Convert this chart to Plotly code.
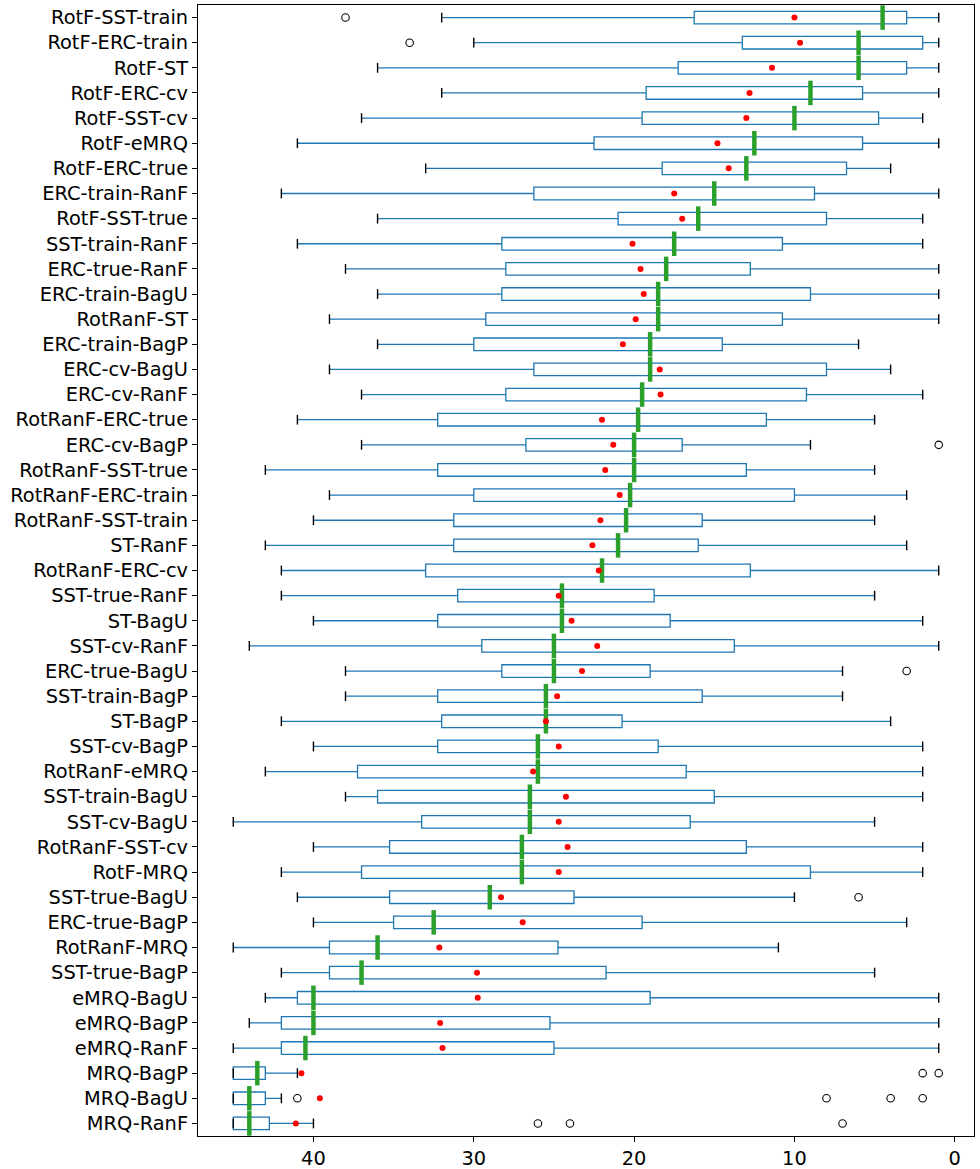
import plotly.graph_objects as go

# Method names, listed top to bottom
labels = [
    "RotF-SST-train", "RotF-ERC-train", "RotF-ST", "RotF-ERC-cv", "RotF-SST-cv",
    "RotF-eMRQ", "RotF-ERC-true", "ERC-train-RanF", "RotF-SST-true", "SST-train-RanF",
    "ERC-true-RanF", "ERC-train-BagU", "RotRanF-ST", "ERC-train-BagP", "ERC-cv-BagU",
    "ERC-cv-RanF", "RotRanF-ERC-true", "ERC-cv-BagP", "RotRanF-SST-true", "RotRanF-ERC-train",
    "RotRanF-SST-train", "ST-RanF", "RotRanF-ERC-cv", "SST-true-RanF", "ST-BagU",
    "SST-cv-RanF", "ERC-true-BagU", "SST-train-BagP", "ST-BagP", "SST-cv-BagP",
    "RotRanF-eMRQ", "SST-train-BagU", "SST-cv-BagU", "RotRanF-SST-cv", "RotF-MRQ",
    "SST-true-BagU", "ERC-true-BagP", "RotRanF-MRQ", "SST-true-BagP", "eMRQ-BagU",
    "eMRQ-BagP", "eMRQ-RanF", "MRQ-BagP", "MRQ-BagU", "MRQ-RanF",
]

# Box statistics (rank values)
upper_whisker = [32, 30, 36, 32, 37, 41, 33, 42, 36, 41,
                 38, 36, 39, 36, 39, 37, 41, 37, 43, 39,
                 40, 43, 42, 42, 40, 44, 38, 38, 42, 40,
                 43, 38, 45, 40, 42, 41, 40, 45, 42, 43,
                 44, 45, 45, 45, 45]
q3 = [16.25, 13.25, 17.25, 19.25, 19.5, 22.5, 18.25, 26.25, 21, 28.25,
      28, 28.25, 29.25, 30, 26.25, 28, 32.25, 26.75, 32.25, 30,
      31.25, 31.25, 33, 31, 32.25, 29.5, 28.25, 32.25, 32, 32.25,
      37.25, 36, 33.25, 35.25, 37, 35.25, 35, 39, 39, 41,
      42, 42, 45, 45, 45]
medians = [4.5, 6, 6, 9, 10, 12.5, 13, 15, 16, 17.5,
           18, 18.5, 18.5, 19, 19, 19.5, 19.75, 20, 20, 20.25,
           20.5, 21, 22, 24.5, 24.5, 25, 25, 25.5, 25.5, 26,
           26, 26.5, 26.5, 27, 27, 29, 32.5, 36, 37, 40,
           40, 40.5, 43.5, 44, 44]
q1 = [3, 2, 3, 5.75, 4.75, 5.75, 6.75, 8.75, 8, 10.75,
      12.75, 9, 10.75, 14.5, 8, 9.25, 11.75, 17, 13, 10,
      15.75, 16, 12.75, 18.75, 17.75, 13.75, 19, 15.75, 20.75, 18.5,
      16.75, 15, 16.5, 13, 9, 23.75, 19.5, 24.75, 21.75, 19,
      25.25, 25, 43, 43, 42.75]
lower_whisker = [1, 1, 1, 1, 2, 1, 4, 1, 2, 2,
                 1, 1, 1, 6, 4, 2, 5, 9, 5, 3,
                 5, 3, 1, 5, 2, 1, 7, 7, 4, 2,
                 2, 2, 5, 2, 2, 10, 3, 11, 5, 1,
                 1, 1, 41, 42, 40]
means = [10, 9.65, 11.4, 12.8, 13.0, 14.8, 14.1, 17.5, 17.0, 20.1,
         19.6, 19.4, 19.9, 20.7, 18.4, 18.35, 22.0, 21.3, 21.8, 20.9,
         22.1, 22.6, 22.2, 24.7, 23.9, 22.3, 23.25, 24.8, 25.5, 24.7,
         26.3, 24.25, 24.7, 24.15, 24.7, 28.3, 26.95, 32.15, 29.8, 29.75,
         32.1, 31.95, 40.75, 39.6, 41.1]
outliers = {
    "RotF-SST-train": [38],
    "RotF-ERC-train": [34],
    "ERC-cv-BagP": [1],
    "ERC-true-BagU": [3],
    "SST-true-BagU": [6],
    "MRQ-BagP": [2, 1],
    "MRQ-BagU": [41, 8, 4, 2],
    "MRQ-RanF": [26, 24, 7],
}

pos = list(range(len(labels)))
BLUE = "#1f77b4"
GREEN = "#2ca02c"

fig = go.Figure()

# Boxes and whiskers
fig.add_trace(go.Box(
    y=pos, q1=q1, median=medians, q3=q3,
    lowerfence=lower_whisker, upperfence=upper_whisker,
    orientation="h", width=0.5, whiskerwidth=0,
    line=dict(color=BLUE, width=1.3),
    fillcolor="rgba(0,0,0,0)", boxpoints=False,
    showlegend=False, hoverinfo="skip",
))

# Whisker caps
fig.add_trace(go.Scatter(
    x=upper_whisker + lower_whisker, y=pos + pos, mode="markers",
    marker=dict(symbol="line-ns", size=7, color="black",
                line=dict(color="black", width=1.4)),
    showlegend=False, hoverinfo="skip",
))

# Medians
fig.add_trace(go.Scatter(
    x=medians, y=pos, mode="markers",
    marker=dict(symbol="line-ns", size=17.5, color=GREEN,
                line=dict(color=GREEN, width=4.5)),
    showlegend=False, hoverinfo="skip",
))

# Fliers
fx, fy = [], []
for name, vals in outliers.items():
    i = labels.index(name)
    fx += vals
    fy += [i] * len(vals)
fig.add_trace(go.Scatter(
    x=fx, y=fy, mode="markers",
    marker=dict(symbol="circle-open", size=7.5, color="black",
                line=dict(color="black", width=1.1)),
    showlegend=False, hoverinfo="skip",
))

# Means
fig.add_trace(go.Scatter(
    x=means, y=pos, mode="markers",
    marker=dict(symbol="circle", size=6, color="red", line=dict(width=0)),
    showlegend=False, hoverinfo="skip",
))

axis_font = dict(family="DejaVu Sans", size=19.4, color="black")
fig.update_layout(
    width=980, height=1169,
    margin=dict(l=198, r=6, t=5, b=33),
    paper_bgcolor="white", plot_bgcolor="white",
    font=axis_font,
    boxmode="overlay",
    xaxis=dict(
        range=[47.2, -1.2], tickvals=[0, 10, 20, 30, 40],
        showgrid=False, zeroline=False,
        showline=True, mirror=True, linecolor="black", linewidth=1.1,
        ticks="outside", ticklen=5, tickwidth=1.1, tickcolor="black",
        tickfont=axis_font, automargin=False,
    ),
    yaxis=dict(
        range=[len(labels) - 0.5, -0.5], tickvals=pos, ticktext=labels,
        showgrid=False, zeroline=False,
        showline=True, mirror=True, linecolor="black", linewidth=1.1,
        ticks="outside", ticklen=5, tickwidth=1.1, tickcolor="black",
        tickfont=axis_font, automargin=False,
    ),
)

fig.write_html("out.html")
